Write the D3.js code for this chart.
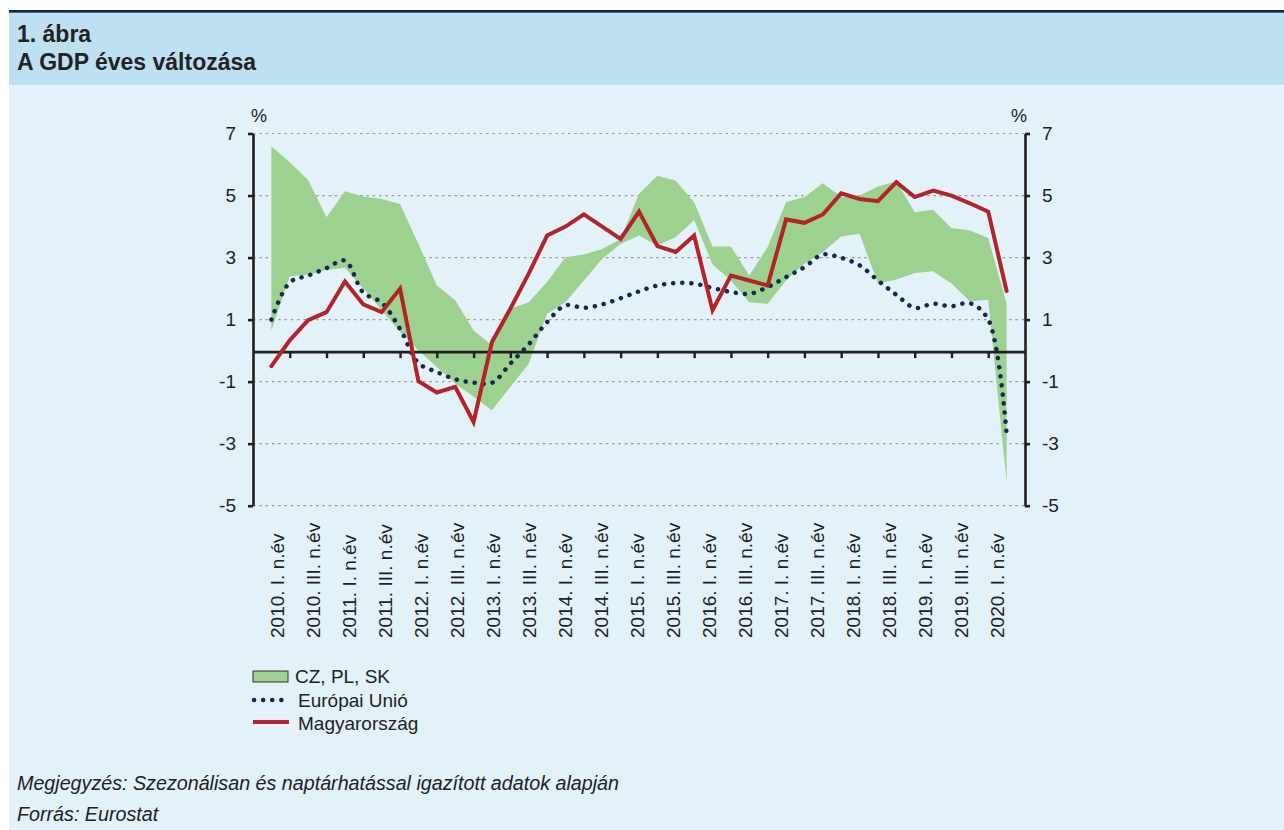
<!DOCTYPE html>
<html>
<head>
<meta charset="utf-8">
<script src="https://cdn.jsdelivr.net/npm/d3@7"></script>
<style>
  body { margin: 0; background: #fff; }
  svg { display: block; font-family: "Liberation Sans", Arial, sans-serif; }
</style>
</head>
<body>
<script>
// GDP annual change, quarterly, 2010 Q1 - 2020 Q1
var years = [2010, 2011, 2012, 2013, 2014, 2015, 2016, 2017, 2018, 2019, 2020];
var quarters = ['I.', 'II.', 'III.', 'IV.'];
var categories = [];
years.forEach(function(y) {
  quarters.forEach(function(q) { categories.push(y + '. ' + q + ' n.év'); });
});
categories = categories.slice(0, 41);

// Hungary
var hungary = [-0.50, 0.33, 0.98, 1.24, 2.23, 1.49, 1.24, 2.0, -0.99, -1.35,
  -1.17, -2.30, 0.28, 1.35, 2.48, 3.71, 4.0, 4.39, 4.0, 3.6,
  4.48, 3.37, 3.18, 3.71, 1.30, 2.42, 2.26, 2.1, 4.23, 4.12,
  4.39, 5.07, 4.89, 4.82, 5.43, 4.95, 5.16, 5.0, 4.75, 4.48, 1.92];

// European Union
var eu = [1.0, 2.2, 2.42, 2.66, 2.9, 1.87, 1.55, 0.7, -0.4, -0.69,
  -0.92, -1.03, -1.04, -0.42, 0.2, 0.92, 1.46, 1.38, 1.49, 1.69,
  1.91, 2.1, 2.18, 2.16, 2.02, 1.89, 1.83, 2.05, 2.37, 2.69,
  3.1, 2.99, 2.75, 2.26, 1.8, 1.38, 1.51, 1.43, 1.53, 1.0, -2.69];

// CZ, PL, SK range (max / min)
var bandHigh = [6.59, 6.07, 5.5, 4.3, 5.14, 4.97, 4.89, 4.73, 3.44, 2.1,
  1.62, 0.65, 0.17, 1.35, 1.56, 2.21, 3.01, 3.1, 3.28, 3.6,
  5.05, 5.64, 5.48, 4.78, 3.36, 3.36, 2.42, 3.34, 4.78, 4.95,
  5.4, 4.95, 5.0, 5.29, 5.46, 4.46, 4.54, 3.95, 3.87, 3.63, 1.51];
var bandLow = [0.65, 2.40, 2.45, 2.6, 2.67, 2.0, 1.3, 0.6, 0.0, -0.53,
  -1.06, -1.49, -1.92, -1.17, -0.42, 1.19, 1.56, 2.26, 2.96, 3.44,
  3.71, 3.39, 3.66, 4.2, 2.78, 2.26, 1.56, 1.51, 2.26, 2.8,
  3.17, 3.68, 3.77, 2.16, 2.29, 2.5, 2.56, 2.16, 1.59, 1.64, -4.23];

var yTicks = [7, 5, 3, 1, -1, -3, -5];

var legendLabels = ['CZ, PL, SK', 'Európai Unió', 'Magyarország'];

var colGreen = '#9dd18f', colEU = '#172653', colHU = '#b3242a', colAxis = '#231f20';

var width = 1284, height = 830;

var svg = d3.select('body')
  .append('svg')
  .attr('width', width)
  .attr('height', height);

// header + panel
svg.append('rect').attr('x', 9).attr('y', 85).attr('width', width - 9).attr('height', height - 85).attr('fill', '#e3f1f9');
svg.append('rect').attr('x', 9).attr('y', 12.5).attr('width', width - 9).attr('height', 72.5).attr('fill', '#bde0f2');
svg.append('rect').attr('x', 9).attr('y', 10).attr('width', width - 9).attr('height', 2.7).attr('fill', '#13254f');

svg.append('text').attr('x', 17).attr('y', 42).attr('font-size', 23).attr('font-weight', 'bold')
  .attr('fill', '#222').text('1. ábra');
svg.append('text').attr('x', 17).attr('y', 70).attr('font-size', 23).attr('font-weight', 'bold')
  .attr('fill', '#222').text('A GDP éves változása');

// scales
var x = d3.scaleLinear().domain([-1, 41]).range([253, 1025]);
var xLab = d3.scaleLinear().domain([0, 40]).range([277, 997]);
var y = d3.scaleLinear().domain([-5, 7]).range([505.7, 133.5]);

// grid
svg.append('g').selectAll('line')
  .data(yTicks)
  .enter()
  .append('line')
  .attr('x1', x(-1)).attr('x2', x(41))
  .attr('y1', function(d) { return y(d); })
  .attr('y2', function(d) { return y(d); })
  .attr('stroke', '#9a9a9a')
  .attr('stroke-width', 1.2)
  .attr('stroke-dasharray', '2.5 3.8');

// band
var idx = d3.range(categories.length);
var area = d3.area()
  .x(function(i) { return x(i); })
  .y0(function(i) { return y(bandLow[i]); })
  .y1(function(i) { return y(bandHigh[i]); });
svg.append('path').datum(idx).attr('d', area).attr('fill', colGreen);

// zero line with ticks
svg.append('line').attr('x1', x(-1)).attr('x2', x(41)).attr('y1', y(0) + 1.5).attr('y2', y(0) + 1.5)
  .attr('stroke', colAxis).attr('stroke-width', 2.6);
var xAxis = d3.axisBottom(x)
  .tickValues(d3.range(1, 41, 2))
  .tickSize(6)
  .tickFormat('');
svg.append('g').attr('transform', 'translate(0,' + (y(0) + 1.5) + ')').call(xAxis)
  .call(function(g) {
    g.select('.domain').remove();
    g.selectAll('line').attr('stroke', colAxis).attr('stroke-width', 2.4);
  });

// x labels
svg.append('g').selectAll('text')
  .data(idx.filter(function(i) { return i % 2 === 0; }))
  .enter()
  .append('text')
  .attr('transform', function(i) { return 'translate(' + xLab(i) + ',638) rotate(-90)'; })
  .attr('dy', '0.35em')
  .attr('text-anchor', 'start')
  .attr('font-size', 19)
  .attr('fill', '#222')
  .text(function(i) { return categories[i]; });

// EU line (smoothed, dotted)
var euLine = d3.line()
  .x(function(i) { return x(i); })
  .y(function(i) { return y(eu[i]); })
  .curve(d3.curveCatmullRom.alpha(0.5));
svg.append('path').datum(idx).attr('d', euLine)
  .attr('fill', 'none').attr('stroke', colEU).attr('stroke-width', 4.5)
  .attr('stroke-linecap', 'round').attr('stroke-dasharray', '0.1 9');

// Hungary line
var huLine = d3.line()
  .x(function(i) { return x(i); })
  .y(function(i) { return y(hungary[i]); });
svg.append('path').datum(idx).attr('d', huLine)
  .attr('fill', 'none').attr('stroke', colHU).attr('stroke-width', 4)
  .attr('stroke-linejoin', 'miter').attr('stroke-linecap', 'round');

// y axes
function styleAxis(g) {
  g.select('.domain').attr('stroke', colAxis).attr('stroke-width', 2.6);
  g.selectAll('.tick line').attr('stroke', colAxis).attr('stroke-width', 2.6);
  g.selectAll('.tick text').attr('font-size', 19).attr('fill', '#222')
    .attr('font-family', '"Liberation Sans", Arial, sans-serif');
}
var fmt = function(d) { return String(d); };
var yLeft = d3.axisLeft(y).tickValues(yTicks).tickFormat(fmt).tickSize(5).tickSizeOuter(0).tickPadding(12);
svg.append('g').attr('transform', 'translate(' + x(-1) + ',0)').call(yLeft).call(styleAxis);
var yRight = d3.axisRight(y).tickValues(yTicks).tickFormat(fmt).tickSize(5).tickSizeOuter(0).tickPadding(12);
svg.append('g').attr('transform', 'translate(' + x(41) + ',0)').call(yRight).call(styleAxis);

svg.append('text').attr('x', 259).attr('y', 122).attr('text-anchor', 'middle')
  .attr('font-size', 18).attr('fill', '#222').text('%');
svg.append('text').attr('x', 1019).attr('y', 122).attr('text-anchor', 'middle')
  .attr('font-size', 18).attr('fill', '#222').text('%');

// legend
var lg = svg.append('g');
lg.append('rect').attr('x', 253).attr('y', 671).attr('width', 35).attr('height', 11)
  .attr('fill', colGreen).attr('stroke', '#333').attr('stroke-width', 1);
lg.append('line').attr('x1', 254).attr('x2', 284).attr('y1', 700).attr('y2', 700)
  .attr('stroke', colEU).attr('stroke-width', 4.5).attr('stroke-linecap', 'round')
  .attr('stroke-dasharray', '0.1 9');
lg.append('line').attr('x1', 253).attr('x2', 289).attr('y1', 722).attr('y2', 722)
  .attr('stroke', colHU).attr('stroke-width', 4);
lg.selectAll('text')
  .data(legendLabels)
  .enter()
  .append('text')
  .attr('x', function(d, i) { return i === 0 ? 295 : 298; })
  .attr('y', function(d, i) { return [682.5, 706.5, 729.5][i]; })
  .attr('font-size', 19)
  .attr('fill', '#222')
  .text(function(d) { return d; });

// notes
svg.append('text').attr('x', 17).attr('y', 790).attr('font-size', 19.7).attr('font-style', 'italic')
  .attr('fill', '#222').text('Megjegyzés: Szezonálisan és naptárhatással igazított adatok alapján');
svg.append('text').attr('x', 17).attr('y', 821).attr('font-size', 19.7).attr('font-style', 'italic')
  .attr('fill', '#222').text('Forrás: Eurostat');
</script>
</body>
</html>
